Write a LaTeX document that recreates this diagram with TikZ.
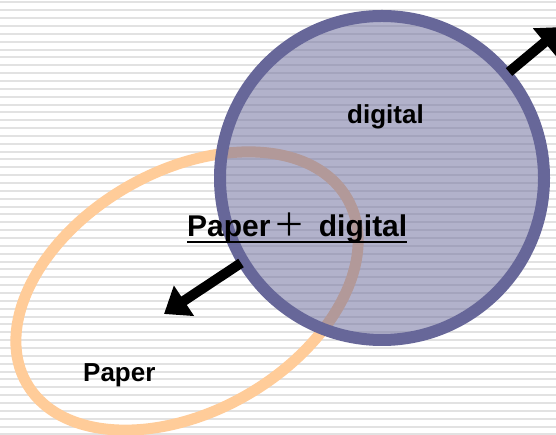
\documentclass[tikz,border=0pt]{standalone}
\usepackage{fontspec}
\setmainfont{Liberation Sans}
\newfontfamily\cjkfont{Noto Sans CJK JP}
\usetikzlibrary{shapes.geometric,arrows.meta}
\definecolor{stripe}{RGB}{226,226,226}
\definecolor{ringpurple}{RGB}{103,103,153}
\definecolor{paperorange}{RGB}{255,204,153}
\begin{document}
\begin{tikzpicture}[x=1pt,y=1pt,
  lbl/.style={inner sep=0pt, anchor=base west},
  bigarrow/.style={line width=10pt, black, -{Triangle[length=24pt,width=35pt]}}]
\useasboundingbox (0,0) rectangle (556,435);
\clip (0,0) rectangle (556,435);
\fill[white] (0,0) rectangle (556,435);
\foreach \i in {0,...,55} \fill[stripe] (0,{435-2.4-7.855*\i-1}) rectangle (556,{435-2.4-7.855*\i+1});
\node[ellipse, draw=paperorange, line width=11pt, minimum width=370pt, minimum height=240pt, rotate=30] (paper) at (187,144) {};
\node[circle, draw=ringpurple, line width=12pt, fill=ringpurple, fill opacity=0.5, draw opacity=1, minimum size=324pt] (digital) at (382,257) {};
\coordinate (a1s) at (241,172);
\coordinate (a1e) at (164,121);
\draw[bigarrow] (a1s) -- (a1e);
\coordinate (a2s) at (509,363);
\coordinate (a2e) at (563,408);
\draw[bigarrow] (a2s) -- (a2e);
\node[lbl, font=\bfseries\fontsize{26}{30}\selectfont] (dlabel) at (347,311.5) {digital};
\node[lbl, font=\bfseries\fontsize{26}{30}\selectfont] (plabel) at (83,53.4) {Paper};
\node[lbl, font=\bfseries\fontsize{30}{34}\selectfont] (both) at (187,198) {Paper\kern3pt{\cjkfont\mdseries\fontsize{32}{34}\selectfont ＋}\kern5pt{} digital};
\draw[line width=2.5pt] ([yshift=-5pt]both.base west) -- ([yshift=-5pt]both.base east);
\end{tikzpicture}
\end{document}
